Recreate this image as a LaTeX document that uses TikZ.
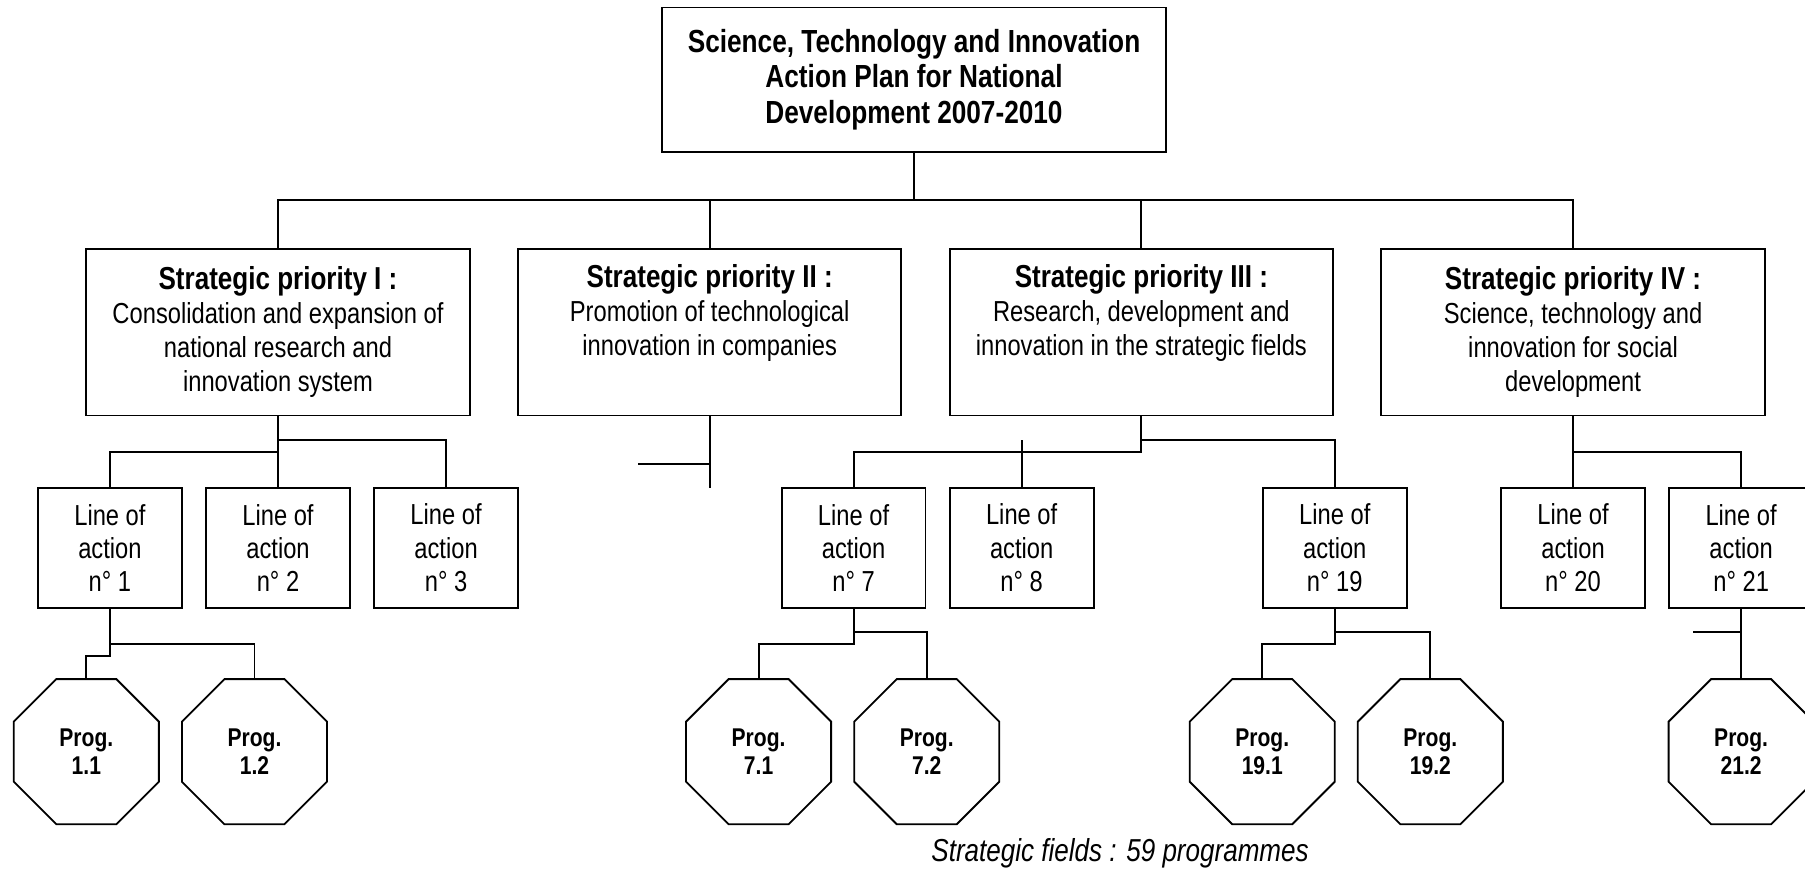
\documentclass[tikz,border=0pt]{standalone}
\usepackage{fontspec}
\setmainfont{Liberation Sans}[FakeStretch=0.82]
\usetikzlibrary{shapes.geometric,positioning}

\newcommand{\prioname}[1]{{\bfseries\fontsize{15.7}{16.8}\selectfont #1}}

\begin{document}
\begin{tikzpicture}[line width=0.9pt,
        planbox/.style={draw, outer sep=0pt, minimum width=8.76cm, minimum height=2.51cm, align=center, font=\bfseries\fontsize{15.8}{17.6}\selectfont},
        prio/.style={draw, outer sep=0pt, minimum width=6.66cm, minimum height=2.9cm, align=center, font=\fontsize{14.3}{16.8}\selectfont},
        action/.style={draw, outer sep=0pt, minimum width=2.5cm, minimum height=2.08cm, align=center, font=\fontsize{14.3}{16.5}\selectfont},
        prog/.style={draw, regular polygon, regular polygon sides=8, minimum size=2.728cm, inner sep=0pt, outer sep=0pt, align=center, font=\bfseries\fontsize{12.7}{14.2}\selectfont}]
        \useasboundingbox (0,0) rectangle (31.36,-15.15);
        \clip (0,0) rectangle (31.36,-15.15);

        % Action Plan
        \node [planbox] (plan) at (15.88,-1.384) {Science, Technology and Innovation\\ Action Plan for National\\ Development 2007-2010};
        \coordinate [below=0.84cm of plan] (bus);

        % Strategic priorities
        \node [prio, below=1.68cm of plan, xshift=-11.05cm] (p1) {\prioname{Strategic priority I :}\\ Consolidation and expansion of\\ national research and\\ innovation system};
        \node [prio, right=0.84cm of p1] (p2) {\prioname{Strategic priority II :}\\ Promotion of technological\\ innovation in companies\\ \strut};
        \node [prio, right=0.84cm of p2] (p3) {\prioname{Strategic priority III :}\\ Research, development and\\ innovation in the strategic fields\\ \strut};
        \node [prio, right=0.84cm of p3] (p4) {\prioname{Strategic priority IV :}\\ Science, technology and\\ innovation for social\\ development};

        % Lines of action
        \node [action, below=1.26cm of p1] (la2) {Line of\\ action\\ n° 2};
        \node [action, left=0.42cm of la2] (la1) {Line of\\ action\\ n° 1};
        \node [action, right=0.42cm of la2] (la3) {Line of\\ action\\ n° 3};
        \node [action, below=1.26cm of p3, xshift=-5.0cm] (la7) {Line of\\ action\\ n° 7};
        \node [action, right=0.42cm of la7] (la8) {Line of\\ action\\ n° 8};
        \node [action, below=1.26cm of p3, xshift=3.36cm] (la19) {Line of\\ action\\ n° 19};
        \node [action, below=1.26cm of p4] (la20) {Line of\\ action\\ n° 20};
        \node [action, right=0.42cm of la20] (la21) {Line of\\ action\\ n° 21};

        % Programmes
        \node [prog, below=1.24cm of la1, xshift=-0.41cm] (prog11) {Prog.\\ 1.1};
        \node [prog, right=0.4cm of prog11] (prog12) {Prog.\\ 1.2};
        \node [prog, below=1.24cm of la7, xshift=-1.65cm] (prog71) {Prog.\\ 7.1};
        \node [prog, right=0.4cm of prog71] (prog72) {Prog.\\ 7.2};
        \node [prog, below=1.24cm of la19, xshift=-1.26cm] (prog191) {Prog.\\ 19.1};
        \node [prog, right=0.4cm of prog191] (prog192) {Prog.\\ 19.2};
        \node [prog, below=1.24cm of la21] (prog212) {Prog.\\ 21.2};

        % Connections
        \draw (plan.south) -- (bus);
        \draw (p1.north) |- (bus) -| (p4.north);
        \draw (p2.north) -- (p2.north |- bus);
        \draw (p3.north) -- (p3.north |- bus);

        \draw (p1.south) -- (la2.north);
        \draw ([yshift=-0.42cm]p1.south) -| (la3.north);
        \draw ([yshift=-0.63cm]p1.south) -| (la1.north);
        \draw (p2.south) -- ++(0,-1.26);
        \draw ([yshift=-0.84cm]p2.south) -- ++(-1.24,0);
        \draw (p3.south) -- ++(0,-0.63) -| (la7.north);
        \draw ([yshift=-0.42cm]p3.south) -| (la19.north);
        \draw (la8.north) -- ++(0,0.84);
        \draw (p4.south) -- (la20.north);
        \draw ([yshift=-0.63cm]p4.south) -| (la21.north);

        \draw (la1.south) -- ++(0,-0.84) -| (prog11.north);
        \draw ([yshift=-0.63cm]la1.south) -| (prog12.north);
        \draw (la7.south) -- ++(0,-0.63) -| (prog71.north);
        \draw ([yshift=-0.42cm]la7.south) -| (prog72.north);
        \draw (la19.south) -- ++(0,-0.63) -| (prog191.north);
        \draw ([yshift=-0.42cm]la19.south) -| (prog192.north);
        \draw (la21.south) -- (prog212.north);
        \draw ([yshift=-0.42cm]la21.south) -- ++(-0.84,0);

        % Caption
        \node [font=\itshape\fontsize{15.7}{18}\selectfont] (fields) at (19.46,-14.82) {Strategic fields : 59 programmes};
    \end{tikzpicture}
\end{document}
